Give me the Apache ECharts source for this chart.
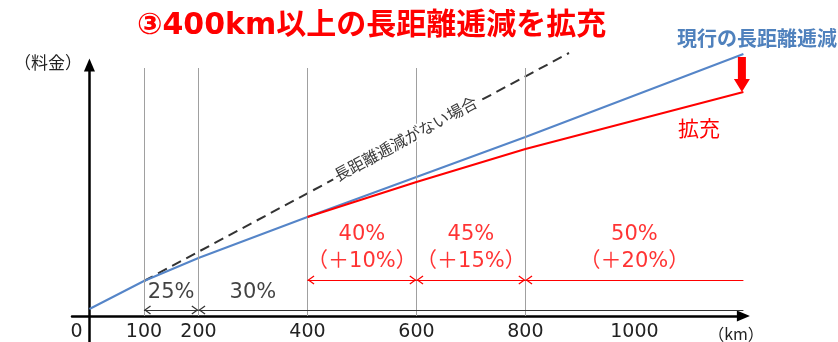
<!DOCTYPE html>
<html>
<head>
<meta charset="utf-8">
<script src="https://cdn.jsdelivr.net/npm/echarts@6/dist/echarts.min.js"></script>
<style>
  html, body { margin: 0; padding: 0; background: #fff; }
  #c { width: 838px; height: 342px; }
</style>
</head>
<body>
<div id="c"></div>
<script>
// Distance (km) tick labels and the vertical guide lines at the taper boundaries
const distanceTicks = [0, 100, 200, 400, 600, 800, 1000];
const guideKm = [100, 200, 400, 600, 800];

// Fare curves: [km, fare]
const noTaperFare = [[100, 35], [880, 263]];
const currentFare = [[0, 7], [100, 35], [200, 58], [400, 99], [600, 139], [800, 179], [1200, 262]];
const expandedFare = [[400, 99], [600, 134], [800, 167], [1200, 224]];

// Discount bands (km ranges) and their rates
const currentBands = [[100, 200], [200, 1200]];
const currentRates = ['25%', '30%'];
const expandedBands = [[400, 600], [600, 800], [800, 1200]];
const expandedRates = ['40%', '45%', '50%'];
const expandedIncrease = ['＋10%', '＋15%', '＋20%'];

const LATIN = '"DejaVu Sans", "Noto Sans CJK JP", sans-serif';
const JP = '"Noto Sans CJK JP", sans-serif';
const RED = '#ff0000';
const BLUE = '#5585c8';
const AXIS_END = 1200;

// thin open chevron used as the span arrow heads (tip pulled back onto the end point)
const chevron = 'path://M5,0 L10,8 L9,9 L5,2.6 L1,9 L0,8 Z';
const chevronSize = [9, 7];
const chevronOffset = [0, 3.5];

const chart = echarts.init(document.getElementById('c'), null, { renderer: 'canvas' });

function spanLines(bands, fareLevel) {
  return bands.map(([a, b]) => [
    { coord: [a, fareLevel], symbol: chevron, symbolOffset: chevronOffset },
    { coord: [b, fareLevel], symbol: b >= AXIS_END ? 'none' : chevron, symbolOffset: chevronOffset }
  ]);
}

// label anchors: closed bands are labelled at their middle,
// the open-ended current band just after its start
const currentLabelPts = currentBands.map(([a, b], i) => {
  const km = b >= AXIS_END ? a + 100 : (a + b) / 2;
  return { value: [km, 23], label: { formatter: currentRates[i] } };
});
const expandedLabelPts = expandedBands.map(([a, b], i) => ({
  value: [(a + b) / 2, 67.5],
  label: { formatter: expandedRates[i] + '\n（' + expandedIncrease[i] + '）' }
}));

chart.setOption({
  animation: false,
  backgroundColor: '#fff',
  title: {
    text: '③400km以上の長距離逓減を拡充',
    left: 137, top: 11, padding: 0,
    textStyle: { color: RED, fontSize: 30, fontWeight: 'bold', fontFamily: LATIN, lineHeight: 30 }
  },
  grid: { left: 72, right: 94.6, top: 65, bottom: 0, containLabel: false, outerBoundsMode: 'none' },
  xAxis: {
    type: 'value', min: -32, max: AXIS_END,
    axisLine: {
      onZero: true, symbol: ['none', 'triangle'], symbolSize: [11, 13],
      lineStyle: { color: '#000', width: 2.5 }
    },
    axisTick: { show: false },
    splitLine: { show: false },
    axisLabel: {
      customValues: distanceTicks,
      margin: -19,
      color: '#222', fontSize: 19, fontFamily: LATIN,
      formatter: v => v === 0 ? '{z|0}' : String(v),
      rich: { z: { padding: [0, 26, 0, 0], fontSize: 19, fontFamily: LATIN, color: '#222' } }
    }
  },
  yAxis: {
    type: 'value', min: -26, max: 251,
    axisLine: {
      show: true, onZero: true, symbol: ['none', 'triangle'], symbolSize: [11, 13],
      lineStyle: { color: '#000', width: 2.5 }
    },
    axisTick: { show: false },
    splitLine: { show: false },
    axisLabel: { show: false }
  },
  series: [
    {
      name: 'guides', type: 'scatter', data: [], silent: true, z: 1,
      markLine: {
        silent: true, symbol: 'none', animation: false,
        label: { show: false },
        lineStyle: { color: '#a0a0a0', width: 1, type: 'solid' },
        data: guideKm.map(k => [{ coord: [k, 0] }, { coord: [k, 248] }])
      }
    },
    {
      name: '長距離逓減がない場合', type: 'line', data: noTaperFare, clip: false,
      symbol: 'none', z: 2,
      lineStyle: { color: '#333', width: 2, type: [10, 6] }
    },
    {
      name: '現行の長距離逓減', type: 'line', data: currentFare, clip: false,
      symbol: 'none', z: 4,
      lineStyle: { color: BLUE, width: 2 }
    },
    {
      name: '拡充', type: 'line', data: expandedFare, clip: false,
      symbol: 'none', z: 5,
      lineStyle: { color: RED, width: 2 }
    },
    {
      name: 'currentRates', type: 'scatter', data: currentLabelPts, symbolSize: 0, z: 6,
      label: { show: true, position: 'inside', color: '#111', fontSize: 21, fontFamily: LATIN },
      markLine: {
        silent: true, animation: false, symbolSize: chevronSize,
        label: { show: false },
        lineStyle: { color: '#333', width: 1.2, type: 'solid' },
        data: spanLines(currentBands, 6)
      }
    },
    {
      name: 'expandedRates', type: 'scatter', data: expandedLabelPts, symbolSize: 0, z: 6,
      label: {
        show: true, position: 'inside', color: RED, fontSize: 21, lineHeight: 27,
        fontFamily: LATIN, align: 'center'
      },
      markLine: {
        silent: true, animation: false, symbolSize: chevronSize,
        label: { show: false },
        lineStyle: { color: RED, width: 1.2, type: 'solid' },
        data: spanLines(expandedBands, 36)
      }
    }
  ]
});

// annotations placed from the data through the chart's own scales
const px = p => chart.convertToPixel({ gridIndex: 0 }, p);
const blueEnd = px(currentFare[currentFare.length - 1]);
const redEnd = px(expandedFare[expandedFare.length - 1]);
const ax = blueEnd[0] - 1.5;
const shaftTop = blueEnd[1] + 3;
const headBase = redEnd[1] - 13;
const tip = redEnd[1];

const d0 = px(noTaperFare[0]);
const d1 = px(noTaperFare[1]);
const angle = Math.atan2(d0[1] - d1[1], d1[0] - d0[0]);
const tKm = 580;
const tFare = noTaperFare[0][1] + (noTaperFare[1][1] - noTaperFare[0][1]) *
  (tKm - noTaperFare[0][0]) / (noTaperFare[1][0] - noTaperFare[0][0]);
const labelAt = px([tKm, tFare]);

chart.setOption({
  graphic: [
    {
      type: 'polygon', z: 20, silent: true,
      shape: {
        points: [
          [ax - 4, shaftTop], [ax + 4, shaftTop], [ax + 4, headBase], [ax + 8, headBase],
          [ax, tip], [ax - 8, headBase], [ax - 4, headBase]
        ]
      },
      style: { fill: RED }
    },
    {
      type: 'text', z: 20, silent: true,
      x: labelAt[0], y: labelAt[1] - 2, rotation: angle,
      style: {
        text: '長距離逓減がない場合', fill: '#3a3a3a', font: '16px ' + JP,
        align: 'center', verticalAlign: 'middle',
        backgroundColor: '#fff', padding: [0, 3]
      }
    },
    {
      type: 'text', z: 20, silent: true, x: 757, y: 38,
      style: { text: '現行の長距離逓減', fill: '#4f81bd', font: 'bold 20px ' + JP, align: 'center', verticalAlign: 'middle' }
    },
    {
      type: 'text', z: 20, silent: true, x: 699, y: 128,
      style: { text: '拡充', fill: RED, font: '21px ' + JP, align: 'center', verticalAlign: 'middle' }
    },
    {
      type: 'text', z: 20, silent: true, x: 82, y: 63,
      style: { text: '（料金）', fill: '#222', font: '17px ' + JP, align: 'right', verticalAlign: 'middle' }
    },
    {
      type: 'text', z: 20, silent: true, x: 736, y: 334,
      style: { text: '（km）', fill: '#222', font: '16px ' + JP, align: 'center', verticalAlign: 'middle' }
    }
  ]
});
</script>
</body>
</html>
